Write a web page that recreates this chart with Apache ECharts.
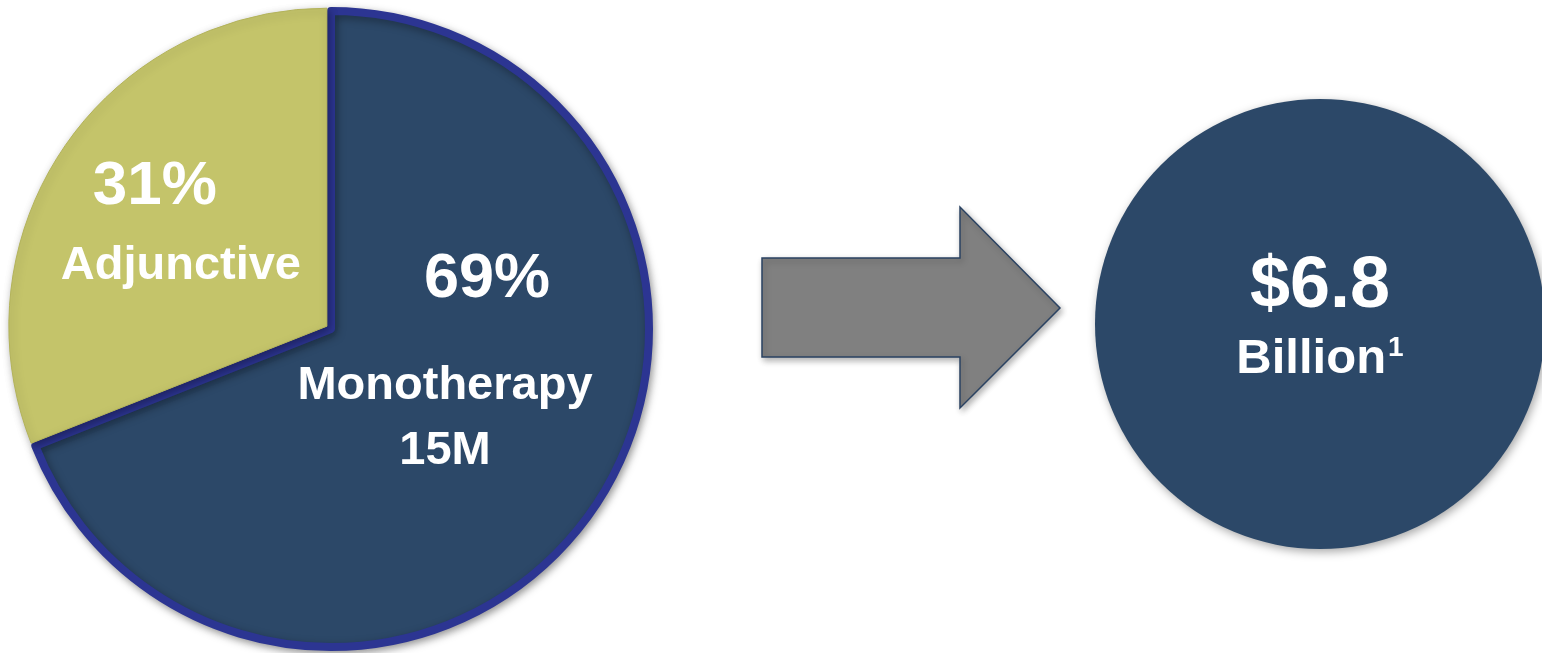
<!DOCTYPE html>
<html>
<head>
<meta charset="utf-8">
<script src="https://cdn.jsdelivr.net/npm/echarts@6/dist/echarts.min.js"></script>
<style>
html,body{margin:0;padding:0;background:#fff;}
#chart{width:1542px;height:653px;}
</style>
</head>
<body>
<div id="chart"></div>
<script>
// ---- data ----
const segmentNames = ['Monotherapy', 'Adjunctive'];
const segmentShares = [69, 31];
const segmentNotes = ['15M', ''];
const marketNames = ['Market'];
const marketValues = [6.8];
const marketUnit = 'Billion';

// ---- styles ----
const NAVY = '#2c4868';
const OLIVE = '#c4c46a';
const EDGE = '#2c3592';
const FONT = '"Liberation Sans", Arial, sans-serif';
const labelShift = [[-20, -75], [-12, -9]];

const chart = echarts.init(document.getElementById('chart'), null, {renderer: 'canvas'});

const pieData = segmentNames.map((n, i) => ({
  name: n,
  value: segmentShares[i],
  note: segmentNotes[i],
  selected: i === 1,
  itemStyle: i === 0
    ? {color: NAVY, borderColor: EDGE, borderWidth: 8}
    : {color: OLIVE, borderColor: '#b3b35a', borderWidth: 1}
}));

chart.setOption({
  animation: false,
  backgroundColor: '#ffffff',
  graphic: [{
    type: 'polygon',
    shape: {points: [[762,258],[960,258],[960,207],[1060,308],[960,408],[960,357],[762,357]]},
    style: {fill: '#808080', stroke: '#2a4262', lineWidth: 1.5,
            shadowBlur: 6, shadowOffsetX: 2, shadowOffsetY: 3, shadowColor: 'rgba(0,0,0,0.3)'}
  }],
  series: [
    {
      type: 'pie',
      center: [331, 329],
      radius: [0, 318],
      startAngle: 90,
      clockwise: true,
      selectedMode: 'single',
      selectedOffset: 5,
      silent: true,
      itemStyle: {shadowBlur: 8, shadowOffsetX: 2, shadowOffsetY: 3, shadowColor: 'rgba(0,0,0,0.35)'},
      label: {
        show: true,
        position: 'inside',
        fontFamily: FONT,
        fontWeight: 'bold',
        color: '#ffffff',
        formatter: function (p) {
          if (p.dataIndex === 0) {
            return '{big|' + p.value + '%}\n{txt|' + p.name + '}\n{txt|' + p.data.note + '}';
          }
          return '{big2|' + p.value + '%}\n{txt2|' + p.name + '}';
        },
        rich: {
          big: {fontSize: 63, fontWeight: 'bold', fontFamily: FONT, color: '#fff', lineHeight: 147, padding: [0, 0, 0, 84]},
          txt: {fontSize: 47, fontWeight: 'bold', fontFamily: FONT, color: '#fff', lineHeight: 65},
          big2: {fontSize: 62, fontWeight: 'bold', fontFamily: FONT, color: '#fff', lineHeight: 79, padding: [0, 52, 0, 0]},
          txt2: {fontSize: 47, fontWeight: 'bold', fontFamily: FONT, color: '#fff', lineHeight: 79}
        }
      },
      labelLayout: function (params) {
        const s = labelShift[params.dataIndex];
        return {dx: s[0], dy: s[1]};
      },
      labelLine: {show: false},
      data: pieData
    },
    {
      type: 'pie',
      center: [1320, 324],
      radius: [0, 225],
      silent: true,
      itemStyle: {color: NAVY, shadowBlur: 10, shadowOffsetX: 2, shadowOffsetY: 3, shadowColor: 'rgba(0,0,0,0.35)'},
      label: {
        show: true,
        position: 'center',
        padding: [0, 0, 2, 0],
        formatter: function (p) {
          return '{big|$' + p.value.toFixed(1) + '}\n{txt|' + marketUnit + '}{sup|1}';
        },
        rich: {
          big: {fontSize: 72, fontWeight: 'bold', fontFamily: FONT, color: '#fff', lineHeight: 72},
          txt: {fontSize: 49, fontWeight: 'bold', fontFamily: FONT, color: '#fff', lineHeight: 72},
          sup: {fontSize: 28, fontWeight: 'bold', fontFamily: FONT, color: '#fff', lineHeight: 72, padding: [0, 0, 22, 2]}
        }
      },
      labelLine: {show: false},
      data: marketNames.map((n, i) => ({name: n, value: marketValues[i]}))
    }
  ]
});
</script>
</body>
</html>
